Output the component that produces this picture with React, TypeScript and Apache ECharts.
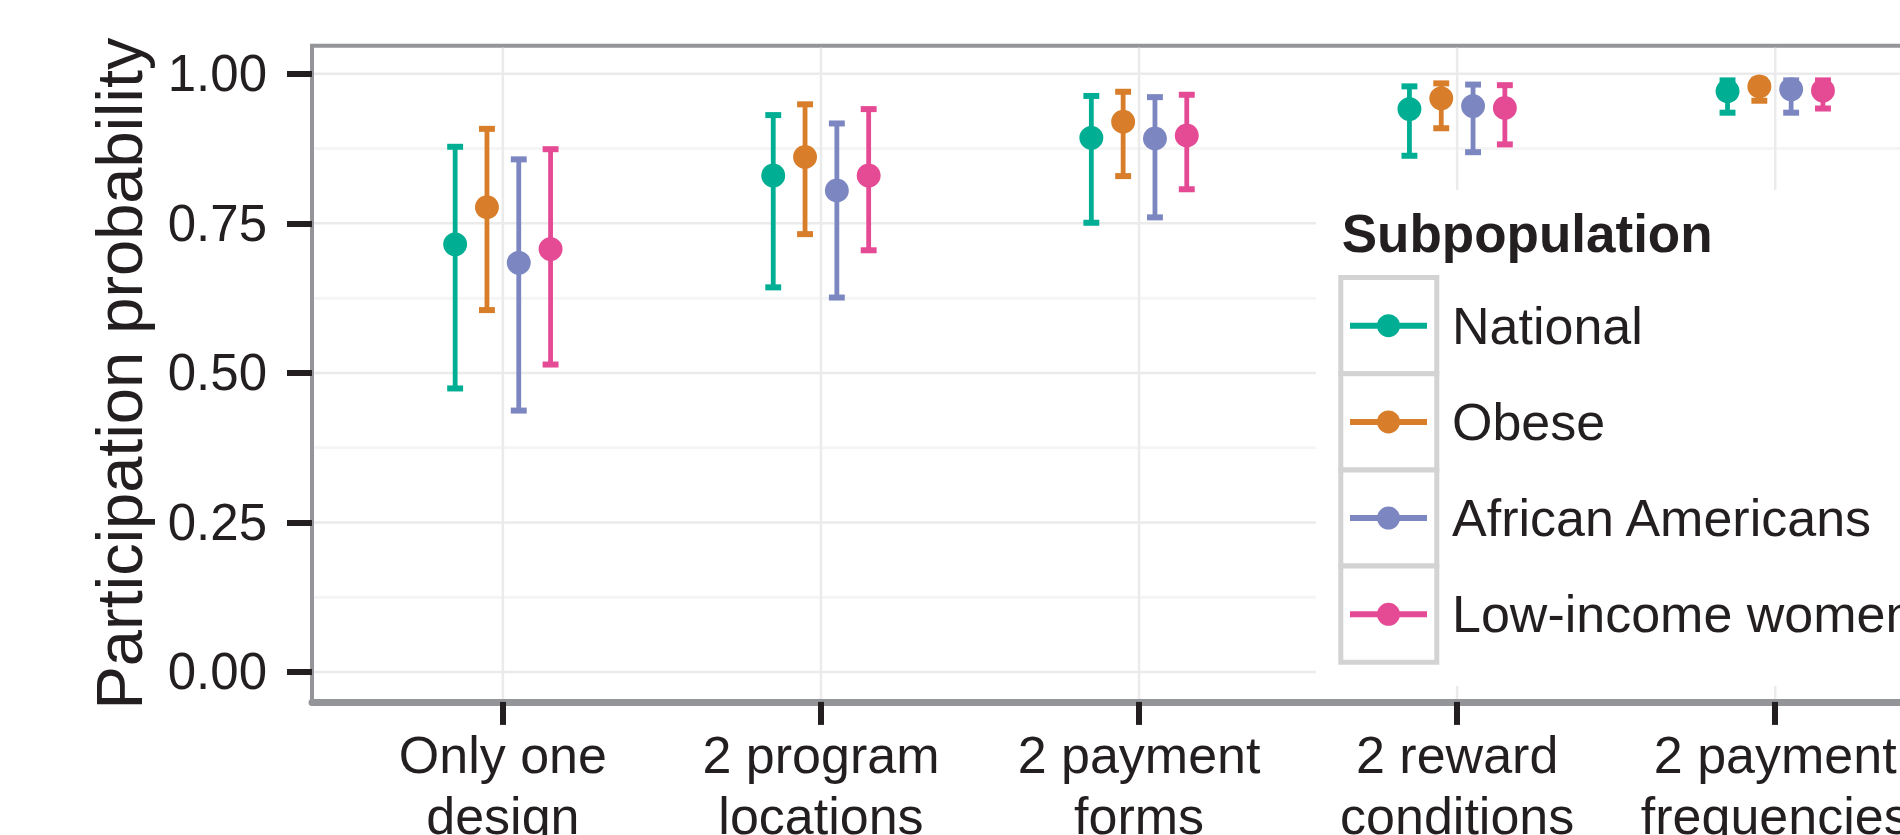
import React, { useEffect, useRef } from "react";
import * as echarts from "echarts";

// ---------- data ----------
const categories = [
  "Only one\ndesign",
  "2 program\nlocations",
  "2 payment\nforms",
  "2 reward\nconditions",
  "2 payment\nfrequencies",
];
const groups = ["National", "Obese", "African Americans", "Low-income women"];
const groupColors = ["#00AE93", "#D87D2A", "#7C87C2", "#E54A95"];

const nationalMean = [0.715, 0.83, 0.893, 0.941, 0.971];
const nationalLow = [0.474, 0.643, 0.751, 0.863, 0.935];
const nationalHigh = [0.878, 0.931, 0.963, 0.979, 0.989];

const obeseMean = [0.777, 0.861, 0.92, 0.959, 0.979];
const obeseLow = [0.605, 0.732, 0.829, 0.909, 0.955];
const obeseHigh = [0.908, 0.949, 0.97, 0.984, 0.99];

const africanMean = [0.684, 0.805, 0.892, 0.946, 0.974];
const africanLow = [0.437, 0.626, 0.76, 0.869, 0.935];
const africanHigh = [0.857, 0.917, 0.961, 0.982, 0.989];

const lowIncomeMean = [0.707, 0.83, 0.897, 0.943, 0.972];
const lowIncomeLow = [0.514, 0.705, 0.807, 0.882, 0.942];
const lowIncomeHigh = [0.874, 0.941, 0.965, 0.981, 0.989];

const yTicks = [0, 0.25, 0.5, 0.75, 1];
const yMinorTicks = [0.125, 0.375, 0.625, 0.875];
const yTitle = "Participation probability";
const legendTitle = "Subpopulation";

// ---------- layout / style constants ----------
const means = [nationalMean, obeseMean, africanMean, lowIncomeMean];
const lows = [nationalLow, obeseLow, africanLow, lowIncomeLow];
const highs = [nationalHigh, obeseHigh, africanHigh, lowIncomeHigh];
const DODGE = [-0.15, -0.05, 0.05, 0.15];
const CAP_HALF = 0.025;
const X_MIN = 0.4;
const X_MAX = 5.6;
const Y_MIN = -0.05;
const Y_MAX = 1.047;
const FONT = '"Liberation Sans", Arial, Helvetica, sans-serif';
const TEXT = "#231f20";
const xTickValues = categories.map((_, i) => i + 1);

function gridLineSeries(data: number[][], color: string, width: number, horizontal: boolean) {
  return {
    type: "custom",
    silent: true,
    z: 1,
    data,
    encode: { x: 0, y: 1 },
    renderItem: (params: any, api: any) => {
      const cs = params.coordSys;
      if (horizontal) {
        const y = api.coord([X_MIN, api.value(1)])[1];
        return {
          type: "line",
          shape: { x1: cs.x + 2, y1: y, x2: cs.x + cs.width, y2: y },
          style: { stroke: color, lineWidth: width },
        };
      }
      const x = api.coord([api.value(0), Y_MIN])[0];
      return {
        type: "line",
        shape: { x1: x, y1: cs.y + 2, x2: x, y2: cs.y + cs.height - 3 },
        style: { stroke: color, lineWidth: width },
      };
    },
  };
}

export default function App() {
  const ref = useRef<HTMLDivElement>(null);

  useEffect(() => {
    if (!ref.current) return;
    const chart = echarts.init(ref.current, undefined, { renderer: "svg" });

    const scatterSeries = groups.map((name, g) => ({
      name,
      type: "scatter",
      z: 4,
      symbol: "circle",
      symbolSize: 24,
      itemStyle: { color: groupColors[g], opacity: 1 },
      data: categories.map((_, i) => [i + 1 + DODGE[g], means[g][i]]),
    }));

    const errorSeries = groups.map((name, g) => ({
      name,
      type: "custom",
      z: 3,
      itemStyle: { color: groupColors[g] },
      encode: { x: 0, y: [1, 2] },
      data: categories.map((_, i) => [i + 1 + DODGE[g], lows[g][i], highs[g][i]]),
      renderItem: (params: any, api: any) => {
        const x = api.value(0);
        const lo = api.coord([x, api.value(1)]);
        const hi = api.coord([x, api.value(2)]);
        const half = api.size([CAP_HALF, 0])[0];
        const c = groupColors[g];
        return {
          type: "group",
          children: [
            {
              type: "line",
              shape: { x1: lo[0], y1: lo[1], x2: hi[0], y2: hi[1] },
              style: { stroke: c, lineWidth: 4.8 },
            },
            {
              type: "line",
              shape: { x1: lo[0] - half, y1: lo[1], x2: lo[0] + half, y2: lo[1] },
              style: { stroke: c, lineWidth: 6 },
            },
            {
              type: "line",
              shape: { x1: hi[0] - half, y1: hi[1], x2: hi[0] + half, y2: hi[1] },
              style: { stroke: c, lineWidth: 6 },
            },
          ],
        };
      },
    }));

    const legendIcon =
      "path://M0,8.5 H30 V14.5 H0 Z M47,8.5 H77 V14.5 H47 Z M27,11.5 A11.5,11.5 0 1,1 50,11.5 A11.5,11.5 0 1,1 27,11.5 Z";

    const legendCells = groups.map((_, i) => ({
      type: "rect",
      z: 6,
      shape: { x: 1340.8, y: 277.5 + i * 96.2, width: 96, height: 96.2 },
      style: { fill: "#ffffff", stroke: "#D3D3D3", lineWidth: 5 },
    }));

    const option: any = {
      animation: false,
      backgroundColor: "#ffffff",
      color: groupColors,
      grid: {
        left: 312,
        top: 45.7,
        width: 1654.1,
        height: 656.2,
        show: true,
        backgroundColor: "#ffffff",
        borderColor: "#939598",
        borderWidth: 4,
        containLabel: false,
        outerBoundsMode: "none",
      },
      xAxis: {
        type: "value",
        min: X_MIN,
        max: X_MAX,
        splitLine: { show: false },
        axisLine: { show: true, onZero: false, lineStyle: { color: "#939598", width: 7 } },
        axisTick: {
          show: true,
          length: 23,
          customValues: xTickValues,
          lineStyle: { color: TEXT, width: 6 },
        },
        axisLabel: {
          customValues: xTickValues,
          margin: 22.5,
          fontSize: 52,
          lineHeight: 61,
          fontFamily: FONT,
          color: TEXT,
          align: "center",
          formatter: (v: number) => categories[Math.round(v) - 1] ?? "",
        },
      },
      yAxis: {
        type: "value",
        min: Y_MIN,
        max: Y_MAX,
        splitLine: { show: false },
        axisLine: { show: false },
        axisTick: {
          show: true,
          length: 25,
          customValues: yTicks,
          lineStyle: { color: TEXT, width: 6 },
        },
        axisLabel: {
          customValues: yTicks,
          margin: 45,
          fontSize: 51,
          fontFamily: FONT,
          color: TEXT,
          formatter: (v: number) => v.toFixed(2),
        },
      },
      legend: {
        orient: "vertical",
        left: 1350,
        top: 295.7,
        padding: 0,
        itemWidth: 77,
        itemHeight: 23,
        itemGap: 36.2,
        icon: legendIcon,
        selectedMode: false,
        z: 10,
        data: groups,
        textStyle: {
          fontSize: 52,
          lineHeight: 60,
          fontFamily: FONT,
          color: TEXT,
          padding: [0, 0, 0, 20],
        },
      },
      graphic: [
        {
          type: "rect",
          z: 5,
          shape: { x: 1316, y: 190, width: 700, height: 496 },
          style: { fill: "#ffffff" },
        },
        ...legendCells,
        {
          type: "text",
          z: 7,
          x: 1341.7,
          y: 233.3,
          style: {
            text: legendTitle,
            fontSize: 53,
            fontWeight: "bold",
            fontFamily: FONT,
            fill: TEXT,
            align: "left",
            verticalAlign: "middle",
          },
        },
        {
          type: "text",
          z: 7,
          x: 119,
          y: 373.5,
          rotation: Math.PI / 2,
          style: {
            text: yTitle,
            fontSize: 65,
            fontFamily: FONT,
            fill: TEXT,
            align: "center",
            verticalAlign: "middle",
          },
        },
      ],
      series: [
        gridLineSeries(yMinorTicks.map((v) => [X_MIN, v]), "#F5F5F5", 3, true),
        gridLineSeries(yTicks.map((v) => [X_MIN, v]), "#EBEBEB", 2.5, true),
        gridLineSeries(xTickValues.map((v) => [v, Y_MIN]), "#EBEBEB", 2.5, false),
        ...scatterSeries,
        ...errorSeries,
      ],
    };

    chart.setOption(option);
    return () => chart.dispose();
  }, []);

  return (
    <div
      ref={ref}
      style={{
        position: "fixed",
        left: 0,
        top: 0,
        width: 1900,
        height: 835,
        overflow: "hidden",
        background: "#fff",
      }}
    />
  );
}
